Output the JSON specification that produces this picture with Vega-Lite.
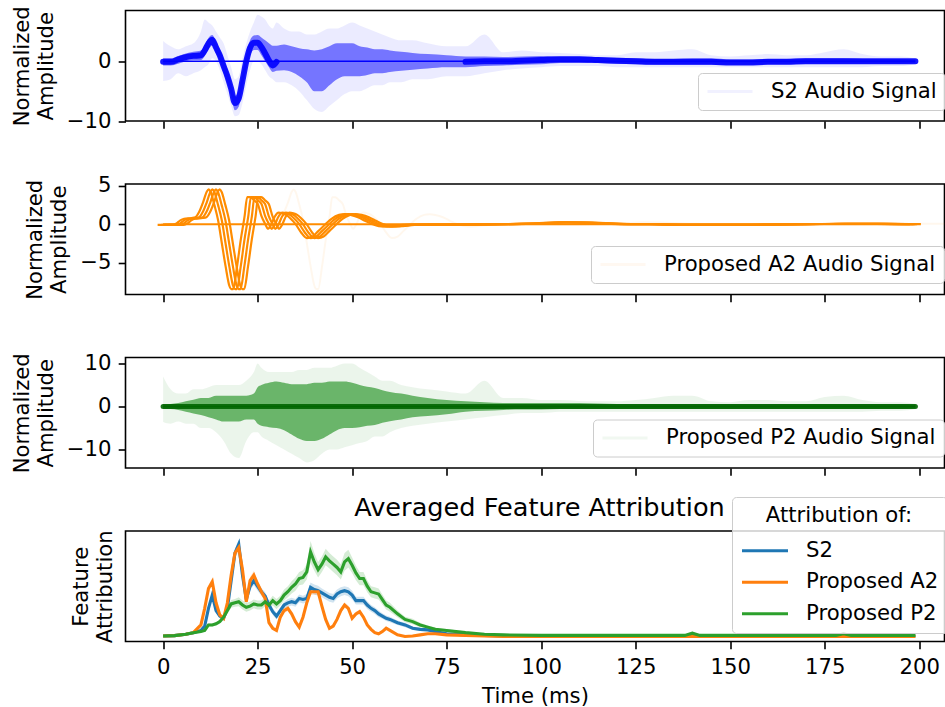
{
 "$schema": "https://vega.github.io/schema/vega-lite/v6.json",
 "background": "white",
 "padding": {"left": 9.5, "top": 4.5, "right": 0, "bottom": 0},
 "bounds": "flush",
 "spacing": 62.5,
 "config": {
  "font": "DejaVu Sans",
  "view": {"stroke": "black", "strokeWidth": 1.6},
  "axis": {"grid": false, "domain": false, "tickColor": "black", "tickWidth": 1.6, "tickSize": 7.3, "labelFont": "DejaVu Sans", "labelFontSize": 21.2, "labelColor": "black", "labelPadding": 7.3, "titleFont": "DejaVu Sans", "titleFontSize": 21.2, "titleFontWeight": "normal", "titleColor": "black", "titleLineHeight": 24},
  "title": {"font": "DejaVu Sans", "fontSize": 25.6, "fontWeight": "normal", "color": "black"},
  "legend": {"labelFont": "DejaVu Sans", "labelFontSize": 21.2, "labelColor": "black", "labelLimit": 400, "titleFont": "DejaVu Sans", "titleFontSize": 21.2, "titleFontWeight": "normal", "titleColor": "black", "fillColor": "rgba(255,255,255,0.8)", "strokeColor": "#cccccc", "cornerRadius": 4, "padding": 8, "symbolType": "stroke", "clipHeight": 21, "orient": "none"}
 },
 "resolve": {"scale": {"y": "independent", "color": "independent"}, "legend": {"color": "independent"}},
 "datasets": {
  "p1": [
   {"t":0,"c":-0.1,"m1":-0.7,"m2":0.5,"e1":-3.3,"e2":3.4},
   {"t":2,"c":-0.1,"m1":-0.7,"m2":0.5,"e1":-3,"e2":2.5},
   {"t":4,"c":0.3,"m1":-0.4,"m2":0.9,"e1":-2,"e2":2},
   {"t":6,"c":0.7,"m1":0,"m2":1.3,"e1":-2.5,"e2":2.5},
   {"t":8,"c":0.9,"m1":0.2,"m2":1.6,"e1":-2,"e2":3},
   {"t":10,"c":1,"m1":0.2,"m2":1.8,"e1":-1.5,"e2":5},
   {"t":11,"c":1.8,"m1":0.9,"m2":2.7,"e1":-1,"e2":7},
   {"t":12,"c":3,"m1":2,"m2":3.9,"e1":-0.5,"e2":6.5},
   {"t":13,"c":3.6,"m1":2.6,"m2":4.4,"e1":0.5,"e2":6},
   {"t":14,"c":2.3,"m1":1.3,"m2":3.3,"e1":0,"e2":5},
   {"t":15,"c":1,"m1":0,"m2":2,"e1":-1.5,"e2":4},
   {"t":16,"c":-0.8,"m1":-2,"m2":0.4,"e1":-3.5,"e2":3},
   {"t":17,"c":-2.5,"m1":-3.7,"m2":-1.3,"e1":-5.5,"e2":1},
   {"t":18,"c":-4.6,"m1":-5.8,"m2":-3.4,"e1":-7.5,"e2":-1},
   {"t":19,"c":-7,"m1":-8.2,"m2":-5.8,"e1":-9.2,"e2":-3},
   {"t":20,"c":-6.2,"m1":-7.6,"m2":-4.8,"e1":-9,"e2":-2.5},
   {"t":21,"c":-3.2,"m1":-4.6,"m2":-1.8,"e1":-7,"e2":0.5},
   {"t":22,"c":0,"m1":-1.4,"m2":1.4,"e1":-4,"e2":3},
   {"t":23,"c":2.3,"m1":1,"m2":3.5,"e1":-1.5,"e2":5},
   {"t":24,"c":3.1,"m1":1.9,"m2":4.3,"e1":0,"e2":6.5},
   {"t":25,"c":3.1,"m1":1.9,"m2":4.4,"e1":0,"e2":7.8},
   {"t":26,"c":2.4,"m1":1,"m2":4,"e1":-0.5,"e2":7.5},
   {"t":27,"c":1.3,"m1":0,"m2":3.5,"e1":-1.5,"e2":7},
   {"t":28,"c":0.1,"m1":-1,"m2":3,"e1":-2.5,"e2":6},
   {"t":29,"c":-0.7,"m1":-1.8,"m2":2.6,"e1":-3,"e2":5.5},
   {"t":30,"c":-0.1,"m1":-1.6,"m2":2.6,"e1":-3.5,"e2":6.5},
   {"t":32,"c":null,"m1":-1.5,"m2":2.8,"e1":-3.5,"e2":5.5},
   {"t":34,"c":null,"m1":-1.8,"m2":2.5,"e1":-4,"e2":5},
   {"t":36,"c":null,"m1":-2.5,"m2":2.2,"e1":-5,"e2":5},
   {"t":38,"c":null,"m1":-3.5,"m2":2,"e1":-6.5,"e2":4.5},
   {"t":40,"c":null,"m1":-5,"m2":1.8,"e1":-8,"e2":4.5},
   {"t":42,"c":null,"m1":-5,"m2":2,"e1":-8.5,"e2":5},
   {"t":44,"c":null,"m1":-4,"m2":2.5,"e1":-7.5,"e2":5.5},
   {"t":46,"c":null,"m1":-3,"m2":3,"e1":-6.5,"e2":5.5},
   {"t":48,"c":null,"m1":-2.5,"m2":3,"e1":-5.5,"e2":6},
   {"t":50,"c":null,"m1":-2.5,"m2":3,"e1":-5,"e2":6.5},
   {"t":52,"c":null,"m1":-2.5,"m2":2.5,"e1":-5,"e2":6},
   {"t":54,"c":null,"m1":-2.3,"m2":2.3,"e1":-4.5,"e2":5.5},
   {"t":56,"c":null,"m1":-2,"m2":2,"e1":-4,"e2":5},
   {"t":58,"c":null,"m1":-2,"m2":2,"e1":-4,"e2":4.5},
   {"t":60,"c":null,"m1":-1.8,"m2":1.8,"e1":-3.5,"e2":4},
   {"t":63,"c":null,"m1":-1.6,"m2":1.6,"e1":-3.5,"e2":3.5},
   {"t":66,"c":null,"m1":-1.4,"m2":1.4,"e1":-3,"e2":3.5},
   {"t":70,"c":null,"m1":-1.2,"m2":1.2,"e1":-3,"e2":3},
   {"t":75,"c":null,"m1":-1,"m2":1,"e1":-2.5,"e2":2.5},
   {"t":80,"c":-0.1,"m1":-1,"m2":0.8,"e1":-2.5,"e2":2.5},
   {"t":85,"c":0,"m1":-0.8,"m2":0.8,"e1":-2,"e2":4.5},
   {"t":90,"c":0,"m1":-0.7,"m2":0.7,"e1":-1.5,"e2":1.5},
   {"t":95,"c":0.1,"m1":-0.6,"m2":0.8,"e1":-1.2,"e2":1.8},
   {"t":100,"c":0.2,"m1":-0.5,"m2":0.9,"e1":-1,"e2":1.5},
   {"t":105,"c":0.3,"m1":-0.3,"m2":0.9,"e1":-0.8,"e2":1.4},
   {"t":110,"c":0.3,"m1":-0.3,"m2":0.9,"e1":-0.8,"e2":1.2},
   {"t":115,"c":0.2,"m1":-0.3,"m2":0.7,"e1":-0.8,"e2":1},
   {"t":120,"c":0.1,"m1":-0.4,"m2":0.6,"e1":-1,"e2":1},
   {"t":125,"c":0,"m1":-0.5,"m2":0.5,"e1":-1,"e2":1.5},
   {"t":130,"c":-0.1,"m1":-0.6,"m2":0.4,"e1":-1,"e2":1.5},
   {"t":135,"c":-0.1,"m1":-0.6,"m2":0.4,"e1":-1,"e2":1.8},
   {"t":140,"c":-0.1,"m1":-0.6,"m2":0.5,"e1":-1,"e2":2},
   {"t":145,"c":-0.1,"m1":-0.6,"m2":0.5,"e1":-1,"e2":1},
   {"t":150,"c":-0.2,"m1":-0.6,"m2":0.3,"e1":-1,"e2":0.8},
   {"t":155,"c":-0.2,"m1":-0.6,"m2":0.3,"e1":-1,"e2":1},
   {"t":160,"c":-0.1,"m1":-0.5,"m2":0.4,"e1":-1,"e2":1.2},
   {"t":165,"c":-0.1,"m1":-0.5,"m2":0.4,"e1":-1,"e2":1},
   {"t":170,"c":0,"m1":-0.4,"m2":0.5,"e1":-1,"e2":1},
   {"t":175,"c":0,"m1":-0.4,"m2":0.5,"e1":-1,"e2":1.5},
   {"t":180,"c":0,"m1":-0.4,"m2":0.5,"e1":-1,"e2":2},
   {"t":185,"c":0,"m1":-0.4,"m2":0.4,"e1":-1,"e2":1.2},
   {"t":190,"c":0,"m1":-0.4,"m2":0.4,"e1":-0.8,"e2":0.8},
   {"t":195,"c":0,"m1":-0.4,"m2":0.4,"e1":-0.8,"e2":0.8},
   {"t":199,"c":0,"m1":-0.3,"m2":0.3,"e1":-0.5,"e2":0.5}
  ],
  "p2": [
   {"t":0,"v":-0.1},{"t":4,"v":-0.1},{"t":5,"v":0.1},{"t":6,"v":0.5},{"t":7,"v":0.7},{"t":9,"v":0.8},{"t":10,"v":0.9},
   {"t":11,"v":1.6},{"t":12,"v":2.8},{"t":13,"v":4.2},{"t":13.5,"v":4.5},{"t":14,"v":4.2},{"t":15,"v":2.5},{"t":16,"v":0.5},
   {"t":17,"v":-2.5},{"t":18,"v":-5.5},{"t":19,"v":-8},{"t":19.5,"v":-8.4},{"t":20,"v":-8.4},{"t":21,"v":-5.5},{"t":22,"v":-2},
   {"t":23,"v":1},{"t":23.7,"v":3.5},{"t":24.5,"v":3.5},{"t":25.5,"v":3.1},{"t":26.5,"v":2.6},{"t":27.5,"v":1},{"t":28.5,"v":0},
   {"t":29.2,"v":-0.6},{"t":30,"v":-0.1},{"t":31,"v":1},{"t":32,"v":1.5},{"t":33,"v":1.4},{"t":34,"v":1.2},{"t":35,"v":0.8},
   {"t":36.5,"v":0},{"t":38,"v":-1.1},{"t":39.5,"v":-1.8},{"t":41,"v":-1.6},{"t":42.5,"v":-0.9},{"t":44.4,"v":0},{"t":46,"v":0.7},
   {"t":48,"v":1.2},{"t":49.5,"v":1.3},{"t":51,"v":1.2},{"t":53,"v":0.9},{"t":55,"v":0.4},{"t":56.8,"v":0},{"t":58.5,"v":-0.25},
   {"t":60,"v":-0.3},{"t":62,"v":-0.25},{"t":65,"v":-0.1},{"t":70,"v":-0.05},{"t":80,"v":-0.05},{"t":90,"v":0},{"t":100,"v":0.1},
   {"t":106,"v":0.25},{"t":112,"v":0.2},{"t":120,"v":0.05},{"t":130,"v":0},{"t":140,"v":-0.1},{"t":150,"v":-0.1},{"t":160,"v":-0.05},
   {"t":170,"v":0},{"t":180,"v":0.05},{"t":190,"v":0.05},{"t":199,"v":0}
  ],
  "p3": [
   {"t":0,"c":0,"m1":-0.5,"m2":0.5,"e1":-3.6,"e2":7},
   {"t":2,"c":0,"m1":-0.6,"m2":0.6,"e1":-4,"e2":4},
   {"t":4,"c":0,"m1":-0.8,"m2":0.8,"e1":-3.5,"e2":3},
   {"t":6,"c":0,"m1":-1.2,"m2":1.2,"e1":-4,"e2":3},
   {"t":8,"c":0,"m1":-1.6,"m2":1.6,"e1":-4,"e2":4},
   {"t":10,"c":0,"m1":-2,"m2":2,"e1":-5,"e2":4},
   {"t":12,"c":0,"m1":-2.5,"m2":2,"e1":-5,"e2":4.5},
   {"t":14,"c":0,"m1":-3,"m2":2.5,"e1":-6,"e2":5},
   {"t":16,"c":0,"m1":-3.5,"m2":2.5,"e1":-8,"e2":5},
   {"t":18,"c":0,"m1":-3.5,"m2":2.5,"e1":-11,"e2":5},
   {"t":20,"c":0,"m1":-3.5,"m2":2.5,"e1":-12,"e2":5},
   {"t":22,"c":0,"m1":-3,"m2":2.5,"e1":-8,"e2":6},
   {"t":24,"c":0,"m1":-3,"m2":3,"e1":-6,"e2":8},
   {"t":25,"c":0,"m1":-4,"m2":4.5,"e1":-6,"e2":10},
   {"t":26,"c":0,"m1":-4.5,"m2":5,"e1":-7,"e2":9},
   {"t":28,"c":0,"m1":-4.8,"m2":5.5,"e1":-8,"e2":8},
   {"t":30,"c":0,"m1":-5,"m2":5.8,"e1":-9,"e2":8},
   {"t":32,"c":0,"m1":-5.5,"m2":5.5,"e1":-10,"e2":8},
   {"t":34,"c":0,"m1":-6.5,"m2":5.2,"e1":-11,"e2":8},
   {"t":36,"c":0,"m1":-7.5,"m2":5.2,"e1":-12,"e2":8.5},
   {"t":38,"c":0,"m1":-8,"m2":5.2,"e1":-13,"e2":8.5},
   {"t":40,"c":0,"m1":-8,"m2":5.5,"e1":-12.5,"e2":9},
   {"t":42,"c":0,"m1":-7.5,"m2":5.5,"e1":-11,"e2":9},
   {"t":44,"c":0,"m1":-6.5,"m2":5.8,"e1":-10,"e2":9},
   {"t":46,"c":0,"m1":-5.5,"m2":5.8,"e1":-10,"e2":9.5},
   {"t":48,"c":0,"m1":-5,"m2":5.8,"e1":-9.5,"e2":10},
   {"t":50,"c":0,"m1":-5,"m2":5.5,"e1":-9,"e2":10},
   {"t":52,"c":0,"m1":-4.8,"m2":5,"e1":-8.5,"e2":9},
   {"t":54,"c":0,"m1":-4.5,"m2":4.6,"e1":-8,"e2":8},
   {"t":56,"c":0,"m1":-4.3,"m2":4.3,"e1":-7,"e2":7},
   {"t":58,"c":0,"m1":-3.8,"m2":3.8,"e1":-7,"e2":6},
   {"t":60,"c":0,"m1":-3.4,"m2":3.4,"e1":-6,"e2":6},
   {"t":63,"c":0,"m1":-3,"m2":3,"e1":-5,"e2":5},
   {"t":66,"c":0,"m1":-2.5,"m2":2.5,"e1":-4.5,"e2":4.5},
   {"t":70,"c":0,"m1":-2.2,"m2":2,"e1":-4,"e2":4},
   {"t":75,"c":0,"m1":-1.8,"m2":1.5,"e1":-3.5,"e2":3.5},
   {"t":80,"c":0,"m1":-1.2,"m2":1.2,"e1":-3,"e2":3},
   {"t":85,"c":0,"m1":-1,"m2":1,"e1":-2.5,"e2":6},
   {"t":90,"c":0,"m1":-0.8,"m2":0.8,"e1":-2,"e2":2},
   {"t":95,"c":0,"m1":-0.7,"m2":0.8,"e1":-1.5,"e2":2},
   {"t":100,"c":0,"m1":-0.7,"m2":0.8,"e1":-1.5,"e2":1.5},
   {"t":105,"c":0,"m1":-0.6,"m2":0.8,"e1":-1.2,"e2":1.5},
   {"t":110,"c":0,"m1":-0.6,"m2":0.8,"e1":-1.2,"e2":1.3},
   {"t":115,"c":0,"m1":-0.6,"m2":0.7,"e1":-1.2,"e2":1.2},
   {"t":120,"c":0,"m1":-0.6,"m2":0.6,"e1":-1.2,"e2":1.2},
   {"t":125,"c":0,"m1":-0.6,"m2":0.6,"e1":-1.2,"e2":1.5},
   {"t":130,"c":0,"m1":-0.6,"m2":0.6,"e1":-1.2,"e2":2},
   {"t":135,"c":0,"m1":-0.6,"m2":0.6,"e1":-1.2,"e2":2.5},
   {"t":140,"c":0,"m1":-0.6,"m2":0.6,"e1":-1.2,"e2":2.5},
   {"t":145,"c":0,"m1":-0.6,"m2":0.6,"e1":-1.2,"e2":1.2},
   {"t":150,"c":0,"m1":-0.6,"m2":0.6,"e1":-1.2,"e2":1},
   {"t":155,"c":0,"m1":-0.6,"m2":0.6,"e1":-1.2,"e2":1.5},
   {"t":160,"c":0,"m1":-0.6,"m2":0.6,"e1":-1.2,"e2":1.5},
   {"t":165,"c":0,"m1":-0.6,"m2":0.6,"e1":-1.2,"e2":1.2},
   {"t":170,"c":0,"m1":-0.6,"m2":0.6,"e1":-1.2,"e2":1.2},
   {"t":175,"c":0,"m1":-0.6,"m2":0.6,"e1":-1.2,"e2":2.2},
   {"t":180,"c":0,"m1":-0.6,"m2":0.6,"e1":-1.2,"e2":2.5},
   {"t":185,"c":0,"m1":-0.6,"m2":0.6,"e1":-1.2,"e2":1.5},
   {"t":190,"c":0,"m1":-0.6,"m2":0.6,"e1":-1,"e2":1},
   {"t":195,"c":0,"m1":-0.6,"m2":0.6,"e1":-1,"e2":1},
   {"t":199,"c":0,"m1":-0.4,"m2":0.4,"e1":-0.6,"e2":0.6}
  ],
  "p4": [
   {"s":"S2","t":0,"y":5,"e":0.4},{"s":"S2","t":3,"y":5.3,"e":0.4},{"s":"S2","t":6,"y":6.5,"e":0.5},{"s":"S2","t":8,"y":8,"e":0.6},
   {"s":"S2","t":10,"y":10,"e":0.8},{"s":"S2","t":11,"y":14,"e":1},{"s":"S2","t":12,"y":30,"e":2},{"s":"S2","t":13,"y":42,"e":3},
   {"s":"S2","t":14,"y":28,"e":2},{"s":"S2","t":15,"y":23,"e":2},{"s":"S2","t":16,"y":21,"e":2},{"s":"S2","t":17,"y":30,"e":2.5},
   {"s":"S2","t":18,"y":55,"e":3.5},{"s":"S2","t":19,"y":80,"e":4},{"s":"S2","t":20,"y":88,"e":4},{"s":"S2","t":21,"y":60,"e":3.5},
   {"s":"S2","t":22,"y":38,"e":3},{"s":"S2","t":23,"y":50,"e":3.5},{"s":"S2","t":24,"y":55,"e":4},{"s":"S2","t":25,"y":50,"e":4},
   {"s":"S2","t":26,"y":45,"e":3.5},{"s":"S2","t":27,"y":41,"e":3.5},{"s":"S2","t":28,"y":33,"e":3},{"s":"S2","t":29,"y":27,"e":3},
   {"s":"S2","t":30,"y":23,"e":3},{"s":"S2","t":31,"y":28,"e":3},{"s":"S2","t":32,"y":33,"e":3},{"s":"S2","t":33,"y":35,"e":3.5},
   {"s":"S2","t":34,"y":36,"e":3.5},{"s":"S2","t":35,"y":35,"e":3.5},{"s":"S2","t":36,"y":39,"e":3.5},{"s":"S2","t":37,"y":38,"e":3.5},
   {"s":"S2","t":38,"y":39,"e":4},{"s":"S2","t":39,"y":49,"e":4.5},{"s":"S2","t":40,"y":47,"e":4.5},{"s":"S2","t":41,"y":46,"e":4.5},
   {"s":"S2","t":42,"y":44,"e":4},{"s":"S2","t":43,"y":42,"e":4},{"s":"S2","t":44,"y":40,"e":4},{"s":"S2","t":45,"y":39,"e":4},
   {"s":"S2","t":46,"y":43,"e":4},{"s":"S2","t":47,"y":45,"e":4},{"s":"S2","t":48,"y":46,"e":4},{"s":"S2","t":49,"y":45,"e":4},
   {"s":"S2","t":50,"y":42,"e":4},{"s":"S2","t":51,"y":37,"e":3.5},{"s":"S2","t":52,"y":37,"e":3.5},{"s":"S2","t":53,"y":37,"e":3.5},
   {"s":"S2","t":54,"y":33,"e":3.5},{"s":"S2","t":55,"y":30,"e":3},{"s":"S2","t":56,"y":28,"e":3},{"s":"S2","t":57,"y":25,"e":3},
   {"s":"S2","t":58,"y":23,"e":2.5},{"s":"S2","t":59,"y":21,"e":2.5},{"s":"S2","t":60,"y":20,"e":2.5},{"s":"S2","t":62,"y":17,"e":2},
   {"s":"S2","t":64,"y":15,"e":2},{"s":"S2","t":66,"y":12,"e":1.5},{"s":"S2","t":68,"y":11,"e":1.5},{"s":"S2","t":70,"y":10.5,"e":1.2},
   {"s":"S2","t":72,"y":9,"e":1},{"s":"S2","t":75,"y":7,"e":1},{"s":"S2","t":80,"y":6,"e":0.8},{"s":"S2","t":85,"y":5.5,"e":0.6},
   {"s":"S2","t":90,"y":5,"e":0.5},{"s":"S2","t":100,"y":5,"e":0.5},{"s":"S2","t":110,"y":5,"e":0.5},{"s":"S2","t":120,"y":5,"e":0.5},
   {"s":"S2","t":130,"y":5,"e":0.5},{"s":"S2","t":138,"y":5,"e":0.5},{"s":"S2","t":140,"y":5.5,"e":0.6},{"s":"S2","t":142,"y":5,"e":0.5},
   {"s":"S2","t":150,"y":5,"e":0.5},{"s":"S2","t":160,"y":5,"e":0.5},{"s":"S2","t":170,"y":5,"e":0.5},{"s":"S2","t":178,"y":5,"e":0.5},
   {"s":"S2","t":180,"y":5.5,"e":0.6},{"s":"S2","t":182,"y":5,"e":0.5},{"s":"S2","t":190,"y":5,"e":0.5},{"s":"S2","t":199,"y":5,"e":0.5},
   {"s":"Proposed A2","t":0,"y":5,"e":0.4},{"s":"Proposed A2","t":3,"y":5.3,"e":0.4},{"s":"Proposed A2","t":6,"y":6.5,"e":0.5},{"s":"Proposed A2","t":8,"y":8,"e":0.6},
   {"s":"Proposed A2","t":10,"y":15,"e":1},{"s":"Proposed A2","t":11,"y":30,"e":2},{"s":"Proposed A2","t":12,"y":48,"e":3},{"s":"Proposed A2","t":13,"y":54,"e":3.5},
   {"s":"Proposed A2","t":14,"y":35,"e":2.5},{"s":"Proposed A2","t":15,"y":24,"e":2},{"s":"Proposed A2","t":16,"y":21,"e":2},{"s":"Proposed A2","t":17,"y":35,"e":2.5},
   {"s":"Proposed A2","t":18,"y":60,"e":3.5},{"s":"Proposed A2","t":19,"y":80,"e":4},{"s":"Proposed A2","t":20,"y":85,"e":4},{"s":"Proposed A2","t":21,"y":65,"e":3.5},
   {"s":"Proposed A2","t":22,"y":36,"e":3},{"s":"Proposed A2","t":23,"y":55,"e":3.5},{"s":"Proposed A2","t":24,"y":60,"e":4},{"s":"Proposed A2","t":25,"y":52,"e":3.5},
   {"s":"Proposed A2","t":26,"y":45,"e":3},{"s":"Proposed A2","t":27,"y":39,"e":3},{"s":"Proposed A2","t":28,"y":17,"e":2},{"s":"Proposed A2","t":29,"y":12,"e":1.5},
   {"s":"Proposed A2","t":30,"y":10,"e":1.5},{"s":"Proposed A2","t":31,"y":22,"e":2},{"s":"Proposed A2","t":32,"y":28,"e":2.5},{"s":"Proposed A2","t":33,"y":30,"e":2.5},
   {"s":"Proposed A2","t":34,"y":25,"e":2},{"s":"Proposed A2","t":35,"y":18,"e":2},{"s":"Proposed A2","t":36,"y":13,"e":1.5},{"s":"Proposed A2","t":37,"y":22,"e":2},
   {"s":"Proposed A2","t":38,"y":35,"e":2.5},{"s":"Proposed A2","t":39,"y":45,"e":3},{"s":"Proposed A2","t":40,"y":45,"e":3},{"s":"Proposed A2","t":41,"y":45,"e":3},
   {"s":"Proposed A2","t":42,"y":32,"e":2.5},{"s":"Proposed A2","t":43,"y":20,"e":2},{"s":"Proposed A2","t":44,"y":12,"e":1.5},{"s":"Proposed A2","t":45,"y":14,"e":1.5},
   {"s":"Proposed A2","t":46,"y":20,"e":2},{"s":"Proposed A2","t":47,"y":28,"e":2},{"s":"Proposed A2","t":48,"y":33,"e":2.5},{"s":"Proposed A2","t":49,"y":30,"e":2.5},
   {"s":"Proposed A2","t":50,"y":21,"e":2},{"s":"Proposed A2","t":51,"y":25,"e":2},{"s":"Proposed A2","t":52,"y":27,"e":2},{"s":"Proposed A2","t":53,"y":22,"e":2},
   {"s":"Proposed A2","t":54,"y":15,"e":1.5},{"s":"Proposed A2","t":55,"y":11,"e":1.5},{"s":"Proposed A2","t":56,"y":8,"e":1},{"s":"Proposed A2","t":57,"y":7,"e":1},
   {"s":"Proposed A2","t":58,"y":9,"e":1},{"s":"Proposed A2","t":59,"y":12,"e":1},{"s":"Proposed A2","t":60,"y":10,"e":1},{"s":"Proposed A2","t":62,"y":6,"e":0.8},
   {"s":"Proposed A2","t":64,"y":4.5,"e":0.6},{"s":"Proposed A2","t":66,"y":5,"e":0.6},{"s":"Proposed A2","t":68,"y":6,"e":0.6},{"s":"Proposed A2","t":70,"y":7,"e":0.6},
   {"s":"Proposed A2","t":72,"y":7,"e":0.6},{"s":"Proposed A2","t":75,"y":6,"e":0.6},{"s":"Proposed A2","t":80,"y":5.5,"e":0.5},{"s":"Proposed A2","t":85,"y":5,"e":0.5},
   {"s":"Proposed A2","t":90,"y":4.5,"e":0.4},{"s":"Proposed A2","t":100,"y":4.5,"e":0.4},{"s":"Proposed A2","t":110,"y":4.5,"e":0.4},{"s":"Proposed A2","t":120,"y":4.5,"e":0.4},
   {"s":"Proposed A2","t":130,"y":4.5,"e":0.4},{"s":"Proposed A2","t":138,"y":4.5,"e":0.4},{"s":"Proposed A2","t":140,"y":4.8,"e":0.5},{"s":"Proposed A2","t":142,"y":4.5,"e":0.4},
   {"s":"Proposed A2","t":150,"y":4.5,"e":0.4},{"s":"Proposed A2","t":160,"y":4.5,"e":0.4},{"s":"Proposed A2","t":170,"y":4.5,"e":0.4},{"s":"Proposed A2","t":178,"y":4.5,"e":0.4},
   {"s":"Proposed A2","t":180,"y":4.8,"e":0.5},{"s":"Proposed A2","t":182,"y":4.5,"e":0.4},{"s":"Proposed A2","t":190,"y":4.5,"e":0.4},{"s":"Proposed A2","t":199,"y":4.5,"e":0.4},
   {"s":"Proposed P2","t":0,"y":5,"e":0.4},{"s":"Proposed P2","t":3,"y":5.3,"e":0.4},{"s":"Proposed P2","t":6,"y":6.5,"e":0.5},{"s":"Proposed P2","t":8,"y":8,"e":0.6},
   {"s":"Proposed P2","t":10,"y":9,"e":0.8},{"s":"Proposed P2","t":11,"y":10,"e":1},{"s":"Proposed P2","t":12,"y":15,"e":1.5},{"s":"Proposed P2","t":13,"y":15,"e":1.5},
   {"s":"Proposed P2","t":14,"y":16,"e":1.5},{"s":"Proposed P2","t":15,"y":18,"e":2},{"s":"Proposed P2","t":16,"y":22,"e":2.5},{"s":"Proposed P2","t":17,"y":28,"e":3},
   {"s":"Proposed P2","t":18,"y":34,"e":3.5},{"s":"Proposed P2","t":19,"y":35,"e":3.5},{"s":"Proposed P2","t":20,"y":36,"e":4},{"s":"Proposed P2","t":21,"y":33,"e":4},
   {"s":"Proposed P2","t":22,"y":31,"e":4},{"s":"Proposed P2","t":23,"y":32,"e":4},{"s":"Proposed P2","t":24,"y":34,"e":4},{"s":"Proposed P2","t":25,"y":33,"e":4},
   {"s":"Proposed P2","t":26,"y":33,"e":4},{"s":"Proposed P2","t":27,"y":36,"e":4},{"s":"Proposed P2","t":28,"y":33,"e":4},{"s":"Proposed P2","t":29,"y":37,"e":4.5},
   {"s":"Proposed P2","t":30,"y":34,"e":4.5},{"s":"Proposed P2","t":31,"y":37,"e":4.5},{"s":"Proposed P2","t":32,"y":42,"e":5},{"s":"Proposed P2","t":33,"y":45,"e":5},
   {"s":"Proposed P2","t":34,"y":49,"e":5.5},{"s":"Proposed P2","t":35,"y":52,"e":6},{"s":"Proposed P2","t":36,"y":57,"e":6},{"s":"Proposed P2","t":37,"y":58,"e":6.5},
   {"s":"Proposed P2","t":38,"y":63,"e":7},{"s":"Proposed P2","t":39,"y":81,"e":10},{"s":"Proposed P2","t":40,"y":72,"e":8},{"s":"Proposed P2","t":41,"y":65,"e":7},
   {"s":"Proposed P2","t":42,"y":70,"e":7},{"s":"Proposed P2","t":43,"y":76.5,"e":7.5},{"s":"Proposed P2","t":44,"y":73,"e":7},{"s":"Proposed P2","t":45,"y":70,"e":7},
   {"s":"Proposed P2","t":46,"y":67,"e":7},{"s":"Proposed P2","t":47,"y":63,"e":7},{"s":"Proposed P2","t":48,"y":72,"e":8},{"s":"Proposed P2","t":49,"y":75,"e":8},
   {"s":"Proposed P2","t":50,"y":69,"e":7},{"s":"Proposed P2","t":51,"y":62,"e":6.5},{"s":"Proposed P2","t":52,"y":57,"e":6},{"s":"Proposed P2","t":53,"y":57,"e":6},
   {"s":"Proposed P2","t":54,"y":50,"e":5.5},{"s":"Proposed P2","t":55,"y":45,"e":5},{"s":"Proposed P2","t":56,"y":44,"e":5},{"s":"Proposed P2","t":57,"y":43,"e":5},
   {"s":"Proposed P2","t":58,"y":38,"e":4.5},{"s":"Proposed P2","t":59,"y":33,"e":4},{"s":"Proposed P2","t":60,"y":31,"e":4},{"s":"Proposed P2","t":62,"y":25,"e":3},
   {"s":"Proposed P2","t":64,"y":20,"e":2.5},{"s":"Proposed P2","t":66,"y":18,"e":2.5},{"s":"Proposed P2","t":68,"y":15,"e":2},{"s":"Proposed P2","t":70,"y":13,"e":1.5},
   {"s":"Proposed P2","t":72,"y":11,"e":1.5},{"s":"Proposed P2","t":75,"y":10,"e":1.2},{"s":"Proposed P2","t":80,"y":8,"e":1},{"s":"Proposed P2","t":85,"y":6.5,"e":0.8},
   {"s":"Proposed P2","t":90,"y":6,"e":0.6},{"s":"Proposed P2","t":100,"y":5.5,"e":0.5},{"s":"Proposed P2","t":110,"y":5.5,"e":0.5},{"s":"Proposed P2","t":120,"y":5.5,"e":0.5},
   {"s":"Proposed P2","t":130,"y":5.5,"e":0.5},{"s":"Proposed P2","t":138,"y":5.5,"e":0.5},{"s":"Proposed P2","t":140,"y":7.5,"e":1.5},{"s":"Proposed P2","t":142,"y":5.5,"e":0.5},
   {"s":"Proposed P2","t":150,"y":5.5,"e":0.5},{"s":"Proposed P2","t":160,"y":5.5,"e":0.5},{"s":"Proposed P2","t":170,"y":5.5,"e":0.5},{"s":"Proposed P2","t":178,"y":5.5,"e":0.5},
   {"s":"Proposed P2","t":180,"y":7,"e":1.2},{"s":"Proposed P2","t":182,"y":5.5,"e":0.5},{"s":"Proposed P2","t":190,"y":5.5,"e":0.5},{"s":"Proposed P2","t":199,"y":5.5,"e":0.5}
  ]
 },
 "vconcat": [
  {
   "width": 819, "height": 110.5,
   "data": {"name": "p1"},
   "layer": [
    {"data": {"values": [{}]}, "mark": {"type": "rule", "strokeWidth": 1.5},
     "encoding": {
      "x": {"datum": 0, "type": "quantitative", "scale": {"domain": [-9.95, 206.7], "nice": false, "zero": false}, "axis": {"values": [0,25,50,75,100,125,150,175,200], "labels": false, "title": null}},
      "x2": {"datum": 199},
      "y": {"datum": 0, "type": "quantitative", "scale": {"domain": [-10, 8.5], "nice": false, "zero": false}, "axis": {"values": [-10, 0], "title": ["Normalized", "Amplitude"], "titlePadding": 10}},
      "color": {"datum": "S2 Audio Signal", "type": "nominal", "scale": {"range": ["#0000ff"]}, "legend": {"title": null, "legendX": 572.5, "legendY": 62.5, "symbolSize": 2025, "symbolStrokeWidth": 3, "symbolOpacity": 0.05, "labelOffset": 17}}
     }},
    {"mark": {"type": "area", "color": "#0000ff", "opacity": 0.08, "interpolate": "monotone"},
     "encoding": {"x": {"field": "t", "type": "quantitative"}, "y": {"field": "e1", "type": "quantitative"}, "y2": {"field": "e2"}}},
    {"mark": {"type": "area", "color": "#0000ff", "opacity": 0.5, "interpolate": "monotone"},
     "encoding": {"x": {"field": "t", "type": "quantitative"}, "y": {"field": "m1", "type": "quantitative"}, "y2": {"field": "m2"}}},
    {"mark": {"type": "line", "color": "#0000ff", "opacity": 0.9, "strokeWidth": 6, "strokeCap": "round", "interpolate": "monotone"},
     "encoding": {"x": {"field": "t", "type": "quantitative"}, "y": {"field": "c", "type": "quantitative"}}}
   ]
  },
  {
   "width": 819, "height": 110.5,
   "data": {"name": "p2"},
   "layer": [
    {"data": {"values": [{}]}, "mark": {"type": "rule", "strokeWidth": 2},
     "encoding": {
      "x": {"datum": 0, "type": "quantitative", "scale": {"domain": [-9.95, 206.7], "nice": false, "zero": false}, "axis": {"values": [0,25,50,75,100,125,150,175,200], "labels": false, "title": null}},
      "x2": {"datum": 199},
      "y": {"datum": 0, "type": "quantitative", "scale": {"domain": [-9.1, 5.2], "nice": false, "zero": false}, "axis": {"values": [-5, 0, 5], "title": ["Normalized", "Amplitude"], "titlePadding": 10}},
      "color": {"datum": "Proposed A2 Audio Signal", "type": "nominal", "scale": {"range": ["#ff8c00"]}, "legend": {"title": null, "legendX": 465.5, "legendY": 62, "symbolSize": 2025, "symbolStrokeWidth": 3, "symbolOpacity": 0.05, "labelOffset": 17}}
     }},
    {"mark": {"type": "line", "color": "#ff8c00", "opacity": 0.07, "strokeWidth": 2, "interpolate": "monotone", "xOffset": 79.5, "clip": true},
     "encoding": {"x": {"field": "t", "type": "quantitative"}, "y": {"field": "v", "type": "quantitative"}}},
    {"mark": {"type": "line", "color": "#ff8c00", "strokeWidth": 2.2, "interpolate": "monotone", "xOffset": -5.5},
     "encoding": {"x": {"field": "t", "type": "quantitative"}, "y": {"field": "v", "type": "quantitative"}}},
    {"mark": {"type": "line", "color": "#ff8c00", "strokeWidth": 2.2, "interpolate": "monotone", "xOffset": -1.8},
     "encoding": {"x": {"field": "t", "type": "quantitative"}, "y": {"field": "v", "type": "quantitative"}}},
    {"mark": {"type": "line", "color": "#ff8c00", "strokeWidth": 2.2, "interpolate": "monotone", "xOffset": 1.8},
     "encoding": {"x": {"field": "t", "type": "quantitative"}, "y": {"field": "v", "type": "quantitative"}}},
    {"mark": {"type": "line", "color": "#ff8c00", "strokeWidth": 2.2, "interpolate": "monotone", "xOffset": 5.5},
     "encoding": {"x": {"field": "t", "type": "quantitative"}, "y": {"field": "v", "type": "quantitative"}}}
   ]
  },
  {
   "width": 819, "height": 110.5,
   "data": {"name": "p3"},
   "layer": [
    {"data": {"values": [{}]}, "mark": {"type": "rule", "strokeWidth": 1.5},
     "encoding": {
      "x": {"datum": 0, "type": "quantitative", "scale": {"domain": [-9.95, 206.7], "nice": false, "zero": false}, "axis": {"values": [0,25,50,75,100,125,150,175,200], "labels": false, "title": null}},
      "x2": {"datum": 199},
      "y": {"datum": 0, "type": "quantitative", "scale": {"domain": [-14.3, 11.4], "nice": false, "zero": false}, "axis": {"values": [-10, 0, 10], "title": ["Normalized", "Amplitude"], "titlePadding": 10}},
      "color": {"datum": "Proposed P2 Audio Signal", "type": "nominal", "scale": {"range": ["#008000"]}, "legend": {"title": null, "legendX": 467.5, "legendY": 62, "symbolSize": 2025, "symbolStrokeWidth": 3, "symbolOpacity": 0.05, "labelOffset": 17}}
     }},
    {"mark": {"type": "area", "color": "#008000", "opacity": 0.08, "interpolate": "monotone"},
     "encoding": {"x": {"field": "t", "type": "quantitative"}, "y": {"field": "e1", "type": "quantitative"}, "y2": {"field": "e2"}}},
    {"mark": {"type": "area", "color": "#008000", "opacity": 0.55, "interpolate": "monotone"},
     "encoding": {"x": {"field": "t", "type": "quantitative"}, "y": {"field": "m1", "type": "quantitative"}, "y2": {"field": "m2"}}},
    {"mark": {"type": "line", "color": "#006400", "opacity": 0.9, "strokeWidth": 5, "strokeCap": "round", "interpolate": "monotone"},
     "encoding": {"x": {"field": "t", "type": "quantitative"}, "y": {"field": "c", "type": "quantitative"}}}
   ]
  },
  {
   "width": 819, "height": 110.5,
   "title": {"text": "Averaged Feature Attribution", "anchor": "middle", "dx": 4.5, "offset": -45, "baseline": "alphabetic"},
   "data": {"name": "p4"},
   "encoding": {
    "x": {"field": "t", "type": "quantitative", "scale": {"domain": [-9.95, 206.7], "nice": false, "zero": false}, "axis": {"values": [0,25,50,75,100,125,150,175,200], "title": "Time (ms)", "titlePadding": 8}},
    "y": {"field": "y", "type": "quantitative", "scale": {"domain": [0, 100], "nice": false, "zero": false}, "axis": {"ticks": false, "labels": false, "title": ["Feature", "Attribution"], "titlePadding": 10}}
   },
   "layer": [
    {"transform": [{"filter": "datum.s === 'S2'"}], "mark": {"type": "errorband", "color": "#1f77b4", "opacity": 0.2},
     "encoding": {"yError": {"field": "e"}}},
    {"transform": [{"filter": "datum.s === 'Proposed A2'"}], "mark": {"type": "errorband", "color": "#ff7f0e", "opacity": 0.2},
     "encoding": {"yError": {"field": "e"}}},
    {"transform": [{"filter": "datum.s === 'Proposed P2'"}], "mark": {"type": "errorband", "color": "#2ca02c", "opacity": 0.2},
     "encoding": {"yError": {"field": "e"}}},
    {"mark": {"type": "line", "strokeWidth": 3.1},
     "encoding": {
      "color": {"field": "s", "type": "nominal", "scale": {"domain": ["S2", "Proposed A2", "Proposed P2"], "range": ["#1f77b4", "#ff7f0e", "#2ca02c"]}, "legend": {"title": "Attribution of:", "legendX": 606.5, "legendY": -34, "titleAnchor": "middle", "titlePadding": 14, "symbolSize": 2116, "symbolStrokeWidth": 3.1, "symbolOpacity": 1, "labelOffset": 16, "rowPadding": 9.5}}
     }}
   ]
  }
 ]
}
